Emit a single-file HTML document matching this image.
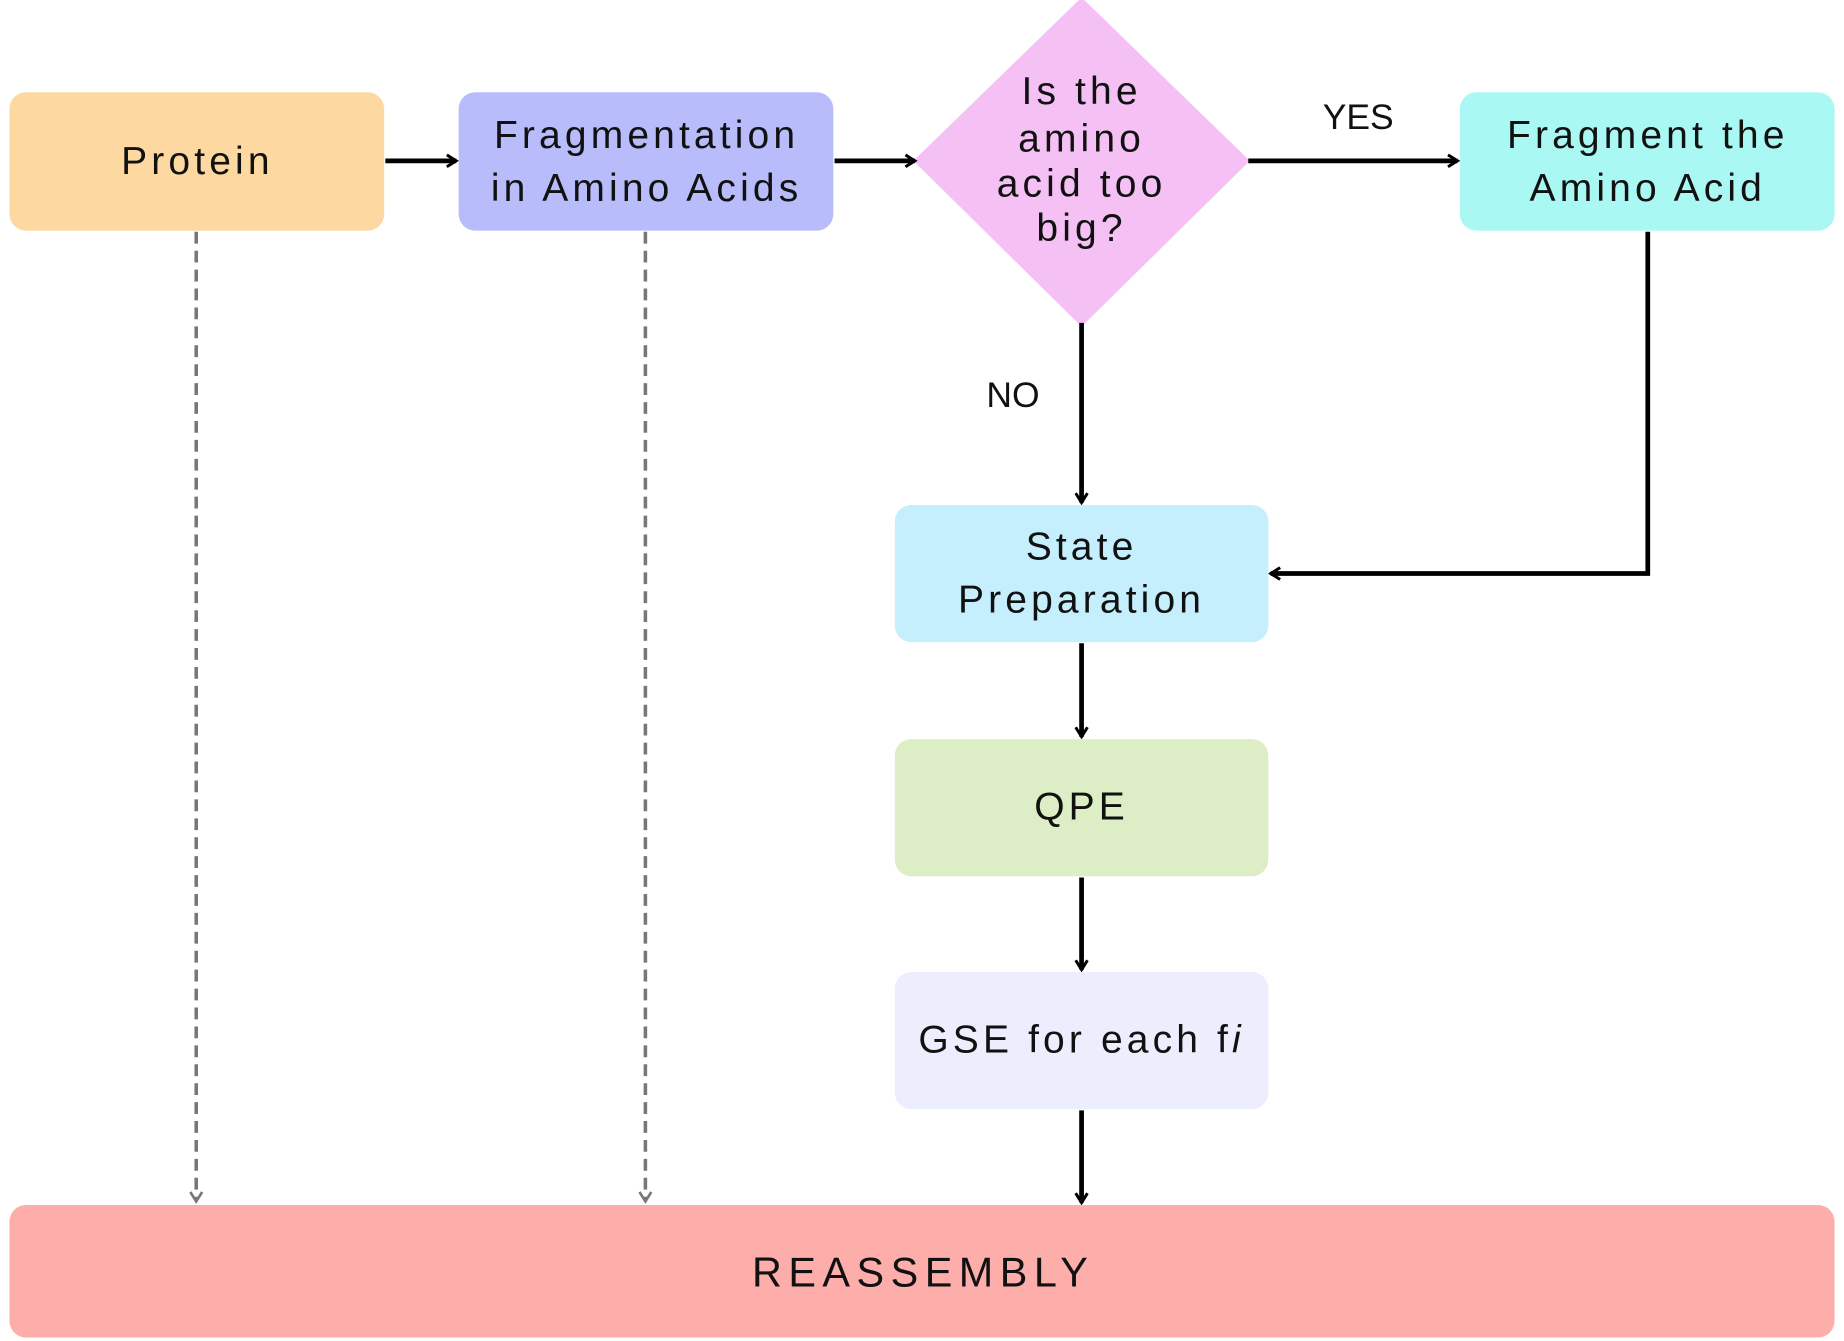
<!DOCTYPE html>
<html><head><meta charset="utf-8"><style>
html,body{margin:0;padding:0;background:#fff;width:1844px;height:1341px;overflow:hidden}
svg{display:block}
text{font-family:"Liberation Sans",sans-serif;fill:#111;text-anchor:middle;letter-spacing:3.5px}
.t{font-size:33px}
.l{font-size:30px;letter-spacing:0}
</style></head><body>
<svg width="1844" height="1341" viewBox="0 0 1560 1134" preserveAspectRatio="none">
<defs>
<marker id="a" viewBox="0 0 12 12" refX="10" refY="6" markerWidth="12" markerHeight="12" markerUnits="userSpaceOnUse" orient="auto"><path d="M2 1 L10 6 L2 11" fill="none" stroke="#000" stroke-width="2.5"/></marker>
<marker id="g" viewBox="0 0 12 12" refX="10" refY="6" markerWidth="12" markerHeight="12" markerUnits="userSpaceOnUse" orient="auto"><path d="M2 1 L10 6 L2 11" fill="none" stroke="#777" stroke-width="2.2"/></marker>
</defs>
<rect x="8" y="78" width="317" height="117" rx="14" fill="#fdd8a0"/>
<rect x="388" y="78" width="317" height="117" rx="14" fill="#b9bcfb"/>
<path d="M915 2 L1053 136 L915 272 L777 136 Z" fill="#f5c0f3" stroke="#f5c0f3" stroke-width="6" stroke-linejoin="round"/>
<rect x="1235" y="78" width="317" height="117" rx="14" fill="#a9f8f3"/>
<rect x="757" y="427" width="316" height="116" rx="14" fill="#c5effd"/>
<rect x="757" y="625" width="316" height="116" rx="14" fill="#ddeec6"/>
<rect x="757" y="822" width="316" height="116" rx="14" fill="#edeefd"/>
<rect x="8" y="1019" width="1544" height="112" rx="14" fill="#fdaeab"/>
<g stroke="#000" stroke-width="4" fill="none">
<line x1="326" y1="136" x2="386" y2="136" marker-end="url(#a)"/>
<line x1="706" y1="136" x2="774" y2="136" marker-end="url(#a)"/>
<line x1="1056" y1="136" x2="1233" y2="136" marker-end="url(#a)"/>
<line x1="915" y1="273" x2="915" y2="425" marker-end="url(#a)"/>
<polyline points="1394,196 1394,485 1075,485" marker-end="url(#a)"/>
<line x1="915" y1="544" x2="915" y2="623" marker-end="url(#a)"/>
<line x1="915" y1="742" x2="915" y2="820" marker-end="url(#a)"/>
<line x1="915" y1="939" x2="915" y2="1017" marker-end="url(#a)"/>
</g>
<g stroke="#777" stroke-width="3" fill="none" stroke-dasharray="10 6">
<line x1="166" y1="196" x2="166" y2="1016" marker-end="url(#g)"/>
<line x1="546" y1="196" x2="546" y2="1016" marker-end="url(#g)"/>
</g>
<text class="t" x="167" y="147">Protein</text>
<text class="t" x="547" y="125">Fragmentation</text>
<text class="t" x="547" y="170">in Amino Acids</text>
<text class="t" x="915" y="88">Is the</text>
<text class="t" x="915" y="128">amino</text>
<text class="t" x="915" y="166">acid too</text>
<text class="t" x="915" y="204">big?</text>
<text class="t" x="1394" y="125">Fragment the</text>
<text class="t" x="1394" y="170">Amino Acid</text>
<text class="t" x="915" y="473">State</text>
<text class="t" x="915" y="518">Preparation</text>
<text class="t" x="915" y="693">QPE</text>
<text class="t" x="915" y="890">GSE for each f<tspan font-style="italic">i</tspan></text>
<text class="t" x="781" y="1088" style="font-size:35px;letter-spacing:5.5px">REASSEMBLY</text>
<text class="l" x="1149" y="109">YES</text>
<text class="l" x="857" y="344">NO</text>
</svg>
</body></html>
